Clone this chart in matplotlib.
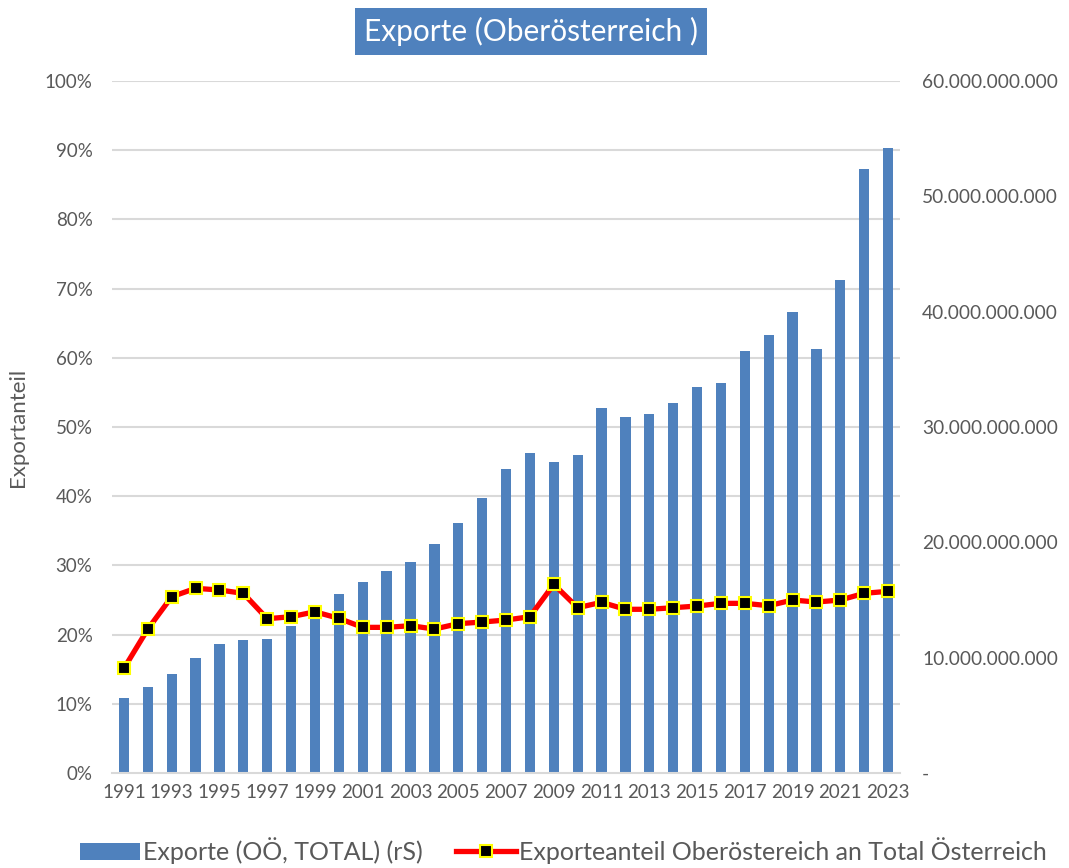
import matplotlib
matplotlib.use("Agg")
import matplotlib.pyplot as plt
from matplotlib.ticker import FuncFormatter, MultipleLocator
import numpy as np

years = list(range(1991, 2024))
exports_bn = [6.53, 7.46, 8.56, 9.95, 11.16, 11.51, 11.62, 12.72, 13.96, 15.52,
              16.59, 17.52, 18.30, 19.86, 21.71, 23.88, 26.37, 27.73, 26.97, 27.58,
              31.63, 30.85, 31.14, 32.06, 33.45, 33.80, 36.60, 37.98, 39.98, 36.75,
              42.76, 52.36, 54.23]
share_pct = [15.13, 20.81, 25.48, 26.69, 26.45, 25.96, 22.30, 22.59, 23.30, 22.35,
             21.05, 21.05, 21.29, 20.81, 21.58, 21.82, 22.11, 22.59, 27.27, 23.89,
             24.67, 23.66, 23.66, 23.89, 24.13, 24.52, 24.52, 24.18, 25.00, 24.71,
             25.00, 25.97, 26.26]

title = "Exporte (Oberösterreich )"
bar_label = "Exporte (OÖ, TOTAL) (rS)"
line_label = "Exporteanteil Oberöstereich an Total Österreich"
ylabel = "Exportanteil"

exports = np.array(exports_bn) * 1e9
share = np.array(share_pct) / 100.0

plt.rcParams['font.family'] = ['Lato', 'DejaVu Sans']
gray = '#595959'
fig = plt.figure(figsize=(10.69, 8.68), dpi=100)
ax = fig.add_axes([0.1048, 0.1094, 0.8419 - 0.1048, 0.9067 - 0.1094])
ax2 = ax.twinx()

x = np.arange(len(years))
ax2.set_zorder(1)
ax.set_zorder(2)
ax.patch.set_visible(False)

ax2.bar(x, exports, width=0.43, color='#4F81BD', label=bar_label, zorder=2)
ax.plot(x, share, color='#FF0000', lw=3.8, marker='s', markersize=9,
        markerfacecolor='black', markeredgecolor='#FFFF00', markeredgewidth=1.5,
        label=line_label, zorder=3)

ax.set_xlim(-0.5, len(years) - 0.5)
ax.set_ylim(0, 1.0)
ax2.set_ylim(0, 60e9)
ax.yaxis.set_major_locator(MultipleLocator(0.1))
ax2.yaxis.set_major_locator(MultipleLocator(10e9))
ax.yaxis.set_major_formatter(FuncFormatter(lambda v, p: f"{v*100:.0f}%"))

def fmt_right(v, p):
    if abs(v) < 1:
        return "-"
    return f"{int(round(v)):,}".replace(",", ".")
ax2.yaxis.set_major_formatter(FuncFormatter(fmt_right))

for v in np.arange(0.1, 1.01, 0.1):
    ax2.axhline(v * 60e9, color='#D9D9D9', lw=1.5, zorder=0)

ax.set_xticks(x[::2])
ax.set_xticklabels([str(y) for y in years[::2]])
ax.tick_params(axis='x', length=0, labelsize=13.5, colors=gray, pad=8)
ax.tick_params(axis='y', length=0, labelsize=13.5, colors=gray, pad=14)
ax2.tick_params(axis='y', length=0, labelsize=13.8, colors=gray, pad=16)

for a in (ax, ax2):
    for s in a.spines.values():
        s.set_visible(False)
ax2.spines['bottom'].set_visible(True)
ax2.spines['bottom'].set_color('#D9D9D9')
ax2.spines['bottom'].set_linewidth(1.5)

ax.set_ylabel(ylabel, fontsize=16, color=gray, labelpad=12)

fig.text(0.4967, 0.9637, title, ha='center', va='center', fontsize=21.5, color='white',
         bbox=dict(boxstyle='square,pad=0.3', facecolor='#4F81BD', edgecolor='none'))

h1, l1 = ax2.get_legend_handles_labels()
h2, l2 = ax.get_legend_handles_labels()
fig.legend(h1 + h2, l1 + l2, loc='center', bbox_to_anchor=(0.527, 0.02), ncol=2,
           frameon=False, fontsize=18, labelcolor=gray, handlelength=2.4,
           handletextpad=0.15, columnspacing=1.3)

fig.savefig("out.png", dpi=100)
